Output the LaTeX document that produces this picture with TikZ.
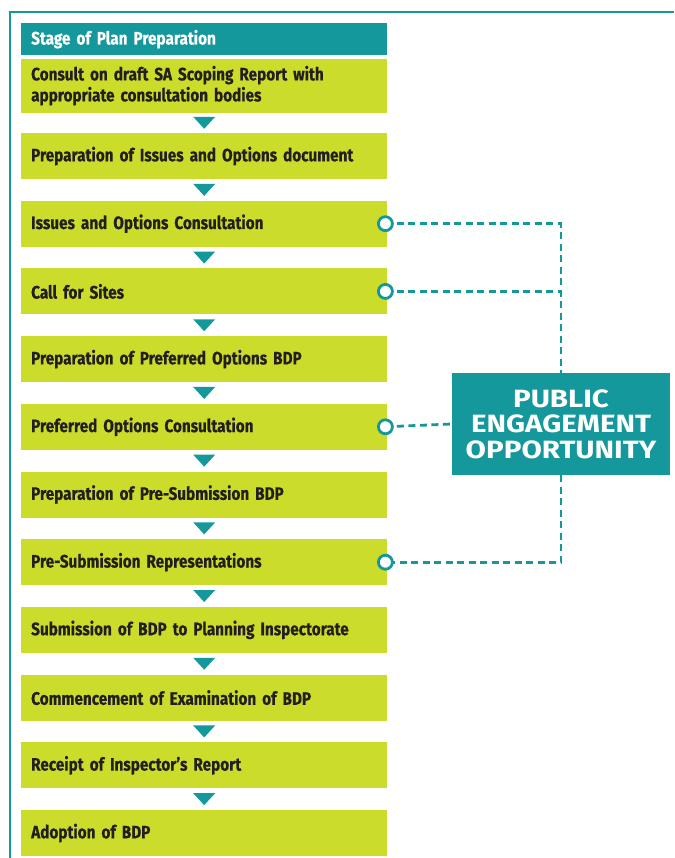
\documentclass[tikz,border=0pt]{standalone}
\usepackage{fontspec}
\setmainfont{Fira Sans}
\newfontfamily\stagefont{Fira Sans}[FakeStretch=0.85, BoldFeatures={FakeBold=0.5}]
\newfontfamily\pefont{Fira Sans}[FakeStretch=1.18]
\definecolor{planteal}{RGB}{20, 152, 155}
\definecolor{planlime}{RGB}{203, 220, 42}
\definecolor{plantext}{RGB}{35, 31, 32}
\usetikzlibrary{shapes, arrows.meta, positioning, calc}

\tikzset{
  stage/.style={fill=planlime, text=plantext, text width=346pt, inner xsep=10pt, inner ysep=0pt,
    minimum height=46pt, align=left, font=\stagefont\bfseries\fontsize{18}{21}\selectfont},
  header/.style={stage, fill=planteal, text=white, minimum height=32pt},
  ring/.style={circle, draw=planteal, line width=2.8pt, fill=white, minimum size=14pt, inner sep=0pt},
  link/.style={draw=planteal, line width=2.8pt, dash pattern=on 7pt off 4.5pt},
  pebox/.style={fill=planteal, text=white, minimum width=218pt, minimum height=102pt, align=center,
    font=\pefont\bfseries\fontsize{25}{25.5}\selectfont}
}

\begin{document}
\begin{tikzpicture}
  \useasboundingbox (0,0) rectangle (674pt,-858pt);
  % outer frame
  \draw[planteal, line width=2.5pt] (674pt,-12pt) -- (10pt,-12pt) -- (10pt,-858pt);

  % stages
  \node[header, anchor=north west] (head) at (21pt,-23pt) {Stage of Plan Preparation};
  \node[stage, minimum height=54pt, below=3pt of head] (s1) {Consult on draft SA Scoping Report with\\appropriate consultation bodies};
  \node[stage, below=20pt of s1] (s2) {Preparation of Issues and Options document};
  \node[stage, below=21.3pt of s2] (s3) {Issues and Options Consultation};
  \node[stage, below=21.3pt of s3] (s4) {Call for Sites};
  \node[stage, below=21.3pt of s4] (s5) {Preparation of Preferred Options BDP};
  \node[stage, below=21.3pt of s5] (s6) {Preferred Options Consultation};
  \node[stage, below=21.3pt of s6] (s7) {Preparation of Pre-Submission BDP};
  \node[stage, below=21.3pt of s7] (s8) {Pre-Submission Representations};
  \node[stage, below=21.3pt of s8] (s9) {Submission of BDP to Planning Inspectorate};
  \node[stage, below=21.3pt of s9] (s10) {Commencement of Examination of BDP};
  \node[stage, below=21.3pt of s10] (s11) {Receipt of Inspector’s Report};
  \node[stage, below=21.3pt of s11] (s12) {Adoption of BDP};

  % down markers
  \foreach \a/\b in {s1/s2, s2/s3, s3/s4, s4/s5, s5/s6, s6/s7, s7/s8, s8/s9, s9/s10, s10/s11, s11/s12}
    \fill[planteal] ($(\a.south)!0.5!(\b.north)+(-11pt,6pt)$) -- ++(22pt,0) -- ++(-11pt,-12pt) -- cycle;

  % engagement
  \node[pebox] (pe) at (561pt,-424pt) {PUBLIC\\ENGAGEMENT\\OPPORTUNITY};
  \coordinate (c3) at ($(s3.east)+(-2pt,0)$);
  \coordinate (c4) at ($(s4.east)+(-2pt,0)$);
  \coordinate (c6) at ($(s6.east)+(-2pt,0)$);
  \coordinate (c8) at ($(s8.east)+(-2pt,0)$);
  \draw[link] (c3) -- (c3 -| pe.north) -- (pe.north);
  \draw[link] (c4) -- (c4 -| pe.north);
  \draw[link] (c6) -- (pe.west);
  \draw[link] (pe.south) -- (pe.south |- c8) -- (c8);
  \foreach \c in {c3, c4, c6, c8}
    \node[ring] at (\c) {};
\end{tikzpicture}
\end{document}
